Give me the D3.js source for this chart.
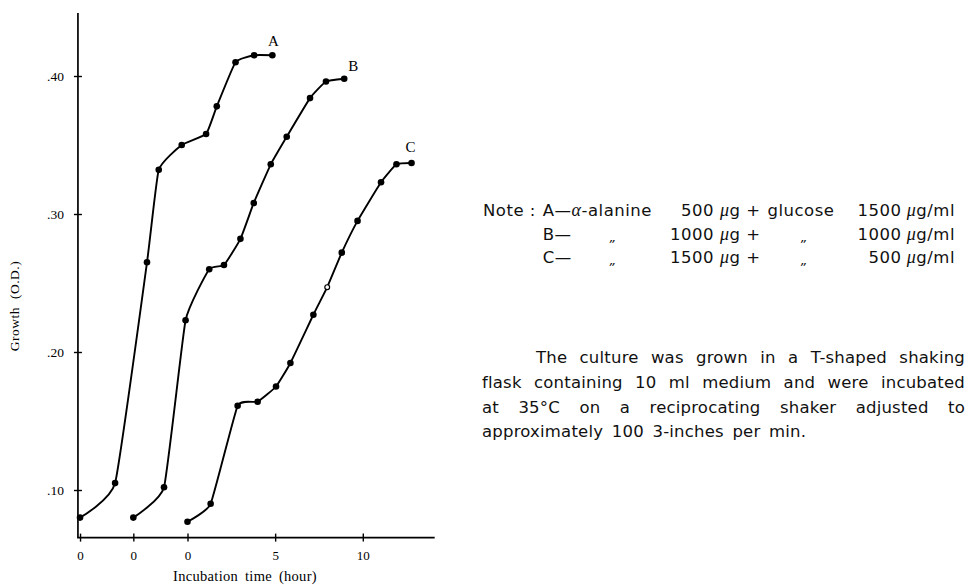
<!DOCTYPE html>
<html><head><meta charset="utf-8">
<script src="https://cdn.jsdelivr.net/npm/d3@7"></script>
<style>body{margin:0;background:#fff} svg{display:block;background:#fff}</style>
</head><body><svg id="c" width="970" height="585"></svg>
<script>
// ---------------- DATA ----------------
const seriesNames = ["A", "B", "C"];
// shift (hours) of each series' own time origin on the shared axis
const seriesOffsets = [-6.13, -3.09, 0];
const timesA  = [0, 2.0, 3.82, 4.49, 5.80, 7.19, 7.80, 8.87, 9.93, 10.97];
const valuesA = [0.080, 0.105, 0.265, 0.332, 0.350, 0.358, 0.378, 0.410, 0.415, 0.415];
const timesB  = [0, 1.75, 2.98, 4.33, 5.17, 6.11, 6.87, 7.84, 8.75, 10.08, 10.99, 12.03];
const valuesB = [0.080, 0.102, 0.223, 0.260, 0.263, 0.282, 0.308, 0.336, 0.356, 0.384, 0.396, 0.398];
const timesC  = [0, 1.32, 2.86, 4.0, 5.05, 5.87, 7.18, 7.97, 8.8, 9.7, 11.04, 11.92, 12.78];
const valuesC = [0.077, 0.090, 0.161, 0.164, 0.175, 0.192, 0.227, 0.247, 0.272, 0.295, 0.323, 0.336, 0.337];
const openPointsC = [7];
const yTicks = [0.10, 0.20, 0.30, 0.40];
const yTickLabels = [".10", ".20", ".30", ".40"];
const xTicks = [-6.13, -3.09, 0, 5, 10];
const xTickLabels = ["0", "0", "0", "5", "10"];
const xTitle = "Incubation time (hour)";
const yTitle = "Growth (O.D.)";
const noteLeads = ["A—", "B—", "C—"];
const alanineUg = [500, 1000, 1500];
const glucoseUg = [1500, 1000, 500];
const paragraph = [
  "The culture was grown in a T-shaped shaking",
  "flask containing 10 ml medium and were incubated",
  "at 35°C on a reciprocating shaker adjusted to",
  "approximately 100 3-inches per min."
];

// ---------------- DRAW ----------------
const svg = d3.select("#c");
const serif = "'Liberation Serif','DejaVu Serif',serif";
const sans = "'DejaVu Sans','Noto Sans',sans-serif";
const x = d3.scaleLinear().domain([0, 10]).range([187.5, 362.8]);
const y = d3.scaleLinear().domain([0.1, 0.4]).range([490, 76]);
const xExtent = [-6.25, 14.1], yExtent = [0.0655, 0.4457];
const ax0 = x(xExtent[0]), ay0 = y(yExtent[0]);

svg.append("line").attr("x1", ax0).attr("x2", ax0).attr("y1", ay0).attr("y2", y(yExtent[1]))
  .attr("stroke", "#000").attr("stroke-width", 1.7);
svg.append("line").attr("x1", ax0 - 0.8).attr("x2", x(xExtent[1])).attr("y1", ay0).attr("y2", ay0)
  .attr("stroke", "#000").attr("stroke-width", 1.7);

const gx = svg.append("g").attr("transform", `translate(0,${ay0})`)
  .call(d3.axisBottom(x).tickValues(xTicks).tickFormat((d, i) => xTickLabels[i]).tickSize(4).tickPadding(9));
gx.select(".domain").remove();
gx.attr("font-family", serif).attr("font-size", 13);
gx.selectAll(".tick line").attr("y1", -4).attr("y2", 4).attr("stroke-width", 1.4);

const gy = svg.append("g").attr("transform", `translate(${ax0},0)`)
  .call(d3.axisLeft(y).tickValues(yTicks).tickFormat((d, i) => yTickLabels[i]).tickSize(4).tickPadding(10));
gy.select(".domain").remove();
gy.attr("font-family", serif).attr("font-size", 13.5);
gy.selectAll(".tick line").attr("x1", -4).attr("x2", 4).attr("stroke-width", 1.4);

svg.append("text").attr("x", 245).attr("y", 581).attr("text-anchor", "middle")
  .attr("font-family", serif).attr("font-size", 14.5).attr("word-spacing", 3).attr("letter-spacing", 0.3)
  .text(xTitle);
svg.append("text").attr("transform", "translate(19,306) rotate(-90)").attr("text-anchor", "middle")
  .attr("font-family", serif).attr("font-size", 13.5).attr("word-spacing", 4).attr("letter-spacing", 0.5)
  .text(yTitle);

const series = [
  {name: seriesNames[0], off: seriesOffsets[0], t: timesA, v: valuesA, open: []},
  {name: seriesNames[1], off: seriesOffsets[1], t: timesB, v: valuesB, open: []},
  {name: seriesNames[2], off: seriesOffsets[2], t: timesC, v: valuesC, open: openPointsC}
];
const labelDx = [1, 9, -1], labelDy = [-14, -13, -16];
const line = d3.line().x(d => x(d.t)).y(d => y(d.v)).curve(d3.curveCardinal.tension(0.6));
series.forEach((s, si) => {
  const pts = s.t.map((t, i) => ({t: t + s.off, v: s.v[i], open: s.open.includes(i)}));
  svg.append("path").datum(pts).attr("d", line).attr("fill", "none")
    .attr("stroke", "#000").attr("stroke-width", 1.9);
  svg.append("g").selectAll("circle").data(pts).join("circle")
    .attr("cx", d => x(d.t)).attr("cy", d => y(d.v)).attr("r", d => d.open ? 2.4 : 3.3)
    .attr("fill", d => d.open ? "#fff" : "#000").attr("stroke", "#000").attr("stroke-width", d => d.open ? 1.2 : 0);
  const last = pts[pts.length - 1];
  svg.append("text").attr("x", x(last.t) + labelDx[si]).attr("y", y(last.v) + labelDy[si])
    .attr("text-anchor", "middle").attr("dominant-baseline", "central")
    .attr("font-family", serif).attr("font-size", 15).text(s.name);
});

// ---- note ----
const fs = 16.5;
const note = svg.append("g").attr("font-family", sans).attr("font-size", fs).attr("fill", "#111")
  .attr("letter-spacing", 0.5);
const measure = (str, fam, style, size) => {
  const t = note.append("text").attr("font-family", fam || sans).attr("font-style", style || "normal")
    .attr("font-size", size || fs).text(str);
  const w = t.node().getComputedTextLength(); t.remove(); return w;
};
const sp = measure("a a") - measure("aa");
const rowY = [216, 240, 263];
const left = 483, right = 955;
note.append("text").attr("x", left).attr("y", rowY[0]).text("Note :");
const leadX = left + measure("Note :") + sp * 1.2;
const wMu = measure("μ", serif, "italic", 18);
const num1R = 714, mugX = 720;
const glucX = mugX + wMu + measure("g +") + sp * 1.2;
const unitX = right - wMu - measure("g/ml");
const num2R = unitX - sp * 0.9;
const alanStart = leadX + measure("A—") + measure("α", serif, "italic", 18);
const ditto1X = alanStart + measure("-alanine") * 0.45;
const ditto2X = glucX + measure("glucose") * 0.55;
const mu = (t) => t.append("tspan").attr("font-family", serif).attr("font-style", "italic").attr("font-size", 18).text("μ");
const ditto = (cx, yy) => note.append("text").attr("x", cx).attr("y", yy + 2).attr("text-anchor", "middle")
  .attr("font-size", 13).attr("font-style", "italic").text("\u201E");
noteLeads.forEach((lead, i) => {
  const t = note.append("text").attr("x", leadX).attr("y", rowY[i]);
  t.append("tspan").text(lead);
  if (i === 0) {
    t.append("tspan").attr("font-family", serif).attr("font-style", "italic").attr("font-size", 18).text("α");
    t.append("tspan").text("-alanine");
  } else ditto(ditto1X, rowY[i]);
  note.append("text").attr("x", num1R).attr("y", rowY[i]).attr("text-anchor", "end").text(alanineUg[i]);
  const m = note.append("text").attr("x", mugX).attr("y", rowY[i]);
  mu(m); m.append("tspan").text("g +");
  if (i === 0) note.append("text").attr("x", glucX).attr("y", rowY[i]).text("glucose");
  else ditto(ditto2X, rowY[i]);
  note.append("text").attr("x", num2R).attr("y", rowY[i]).attr("text-anchor", "end").text(glucoseUg[i]);
  const u = note.append("text").attr("x", unitX).attr("y", rowY[i]);
  mu(u); u.append("tspan").text("g/ml");
});

// ---- paragraph (word-justified) ----
const paraY = [363, 388, 413, 437];
const paraX0 = [536, 482, 482, 482];
const paraX1 = 965;
const pg = svg.append("g").attr("font-family", sans).attr("font-size", fs).attr("fill", "#111")
  .attr("letter-spacing", 0.2);
paragraph.forEach((ln, i) => {
  const words = ln.split(" ");
  const justify = i < paragraph.length - 1;
  const tmp = words.map(w => pg.append("text").attr("y", paraY[i]).text(w));
  const widths = tmp.map(t => t.node().getComputedTextLength());
  const total = d3.sum(widths);
  const gap = justify ? (paraX1 - paraX0[i] - total) / (words.length - 1) : sp * 1.5;
  let cx = paraX0[i];
  tmp.forEach((t, k) => { t.attr("x", cx); cx += widths[k] + gap; });
});
</script></body></html>
